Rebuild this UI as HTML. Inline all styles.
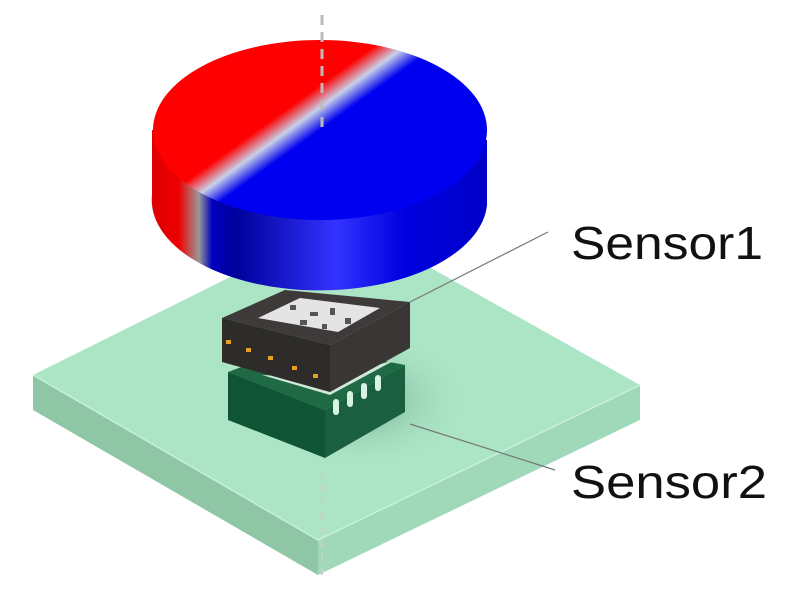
<!DOCTYPE html>
<html><head><style>body{margin:0;background:#fff}svg{display:block}</style></head><body>
<svg width="800" height="600" viewBox="0 0 800 600" xmlns="http://www.w3.org/2000/svg">
<defs>
<linearGradient id="top" x1="0" y1="0" x2="1" y2="0.75" gradientUnits="objectBoundingBox">
<stop offset="0" stop-color="#f00"/><stop offset="0.44" stop-color="#f00"/><stop offset="0.5" stop-color="#c8d0e8"/><stop offset="0.56" stop-color="#0000f0"/><stop offset="1" stop-color="#0000f0"/></linearGradient>
<linearGradient id="side" x1="152" y1="0" x2="487" y2="0" gradientUnits="userSpaceOnUse">
<stop offset="0" stop-color="#d00"/><stop offset="0.08" stop-color="#e00"/><stop offset="0.14" stop-color="#999"/><stop offset="0.18" stop-color="#0000c0"/><stop offset="0.25" stop-color="#00009a"/><stop offset="0.55" stop-color="#3333ff"/><stop offset="0.75" stop-color="#0000e0"/><stop offset="1" stop-color="#0000c8"/></linearGradient>
<radialGradient id="shadow" cx="0.5" cy="0.5" r="0.5"><stop offset="0" stop-color="#5a8a70" stop-opacity="0.7"/><stop offset="1" stop-color="#a8e4c4" stop-opacity="0"/></radialGradient>
</defs>
<polygon points="33,375 345,220 640,385 318,540" fill="#abe5c6"/>
<polygon points="33,375 318,540 318,575 33,410" fill="#8ec6a6"/>
<polygon points="318,540 640,385 640,420 318,575" fill="#9fd9b9"/>
<polyline points="33,375 318,540 640,385" fill="none" stroke="#c8f0da" stroke-width="1.5"/>
<ellipse cx="360" cy="400" rx="110" ry="70" fill="url(#shadow)"/>
<line x1="322" y1="470" x2="322" y2="575" stroke="#ccc" stroke-width="2" stroke-dasharray="8,6"/>
<polygon points="228,372 300,345 405,365 325,410" fill="#1f6a45"/>
<polygon points="228,372 325,410 325,458 228,420" fill="#0f5535"/>
<polygon points="325,410 405,365 405,412 325,458" fill="#1a6040"/>
<g stroke="#d8f3e4" stroke-width="6" stroke-linecap="round"><line x1="336" y1="412" x2="336" y2="402"/><line x1="350" y1="404" x2="350" y2="394"/><line x1="364" y1="396" x2="364" y2="386"/><line x1="378" y1="388" x2="378" y2="378"/></g>
<polygon points="262,375 330,395 395,360 330,378" fill="#cfe8d8"/>
<polygon points="222,318 285,290 410,302 330,345" fill="#3e3a3a"/>
<polygon points="222,318 330,345 330,392 222,362" fill="#2e2b2b"/>
<polygon points="330,345 410,302 410,348 330,392" fill="#3a3636"/>
<polygon points="258,318 300,298 380,308 338,332" fill="#e4e4e4"/>
<g fill="#555"><rect x="290" y="305" width="6" height="5"/><rect x="310" y="312" width="8" height="4"/><rect x="330" y="308" width="5" height="7"/><rect x="300" y="320" width="7" height="5"/><rect x="345" y="318" width="6" height="6"/><rect x="322" y="324" width="5" height="5"/></g>
<g fill="#e8a020"><rect x="226" y="340" width="5" height="4"/><rect x="246" y="348" width="5" height="4"/><rect x="268" y="356" width="5" height="4"/><rect x="292" y="366" width="5" height="4"/><rect x="313" y="374" width="5" height="4"/></g>
<path d="M152,130 L152,195 A167,90 0 0 0 487,205 L487,140 Z" fill="url(#side)"/>
<ellipse cx="320" cy="195" rx="167" ry="92" fill="url(#side)"/>
<ellipse cx="320" cy="130" rx="167" ry="90" fill="url(#top)"/>
<line x1="322" y1="15" x2="322" y2="128" stroke="#bbb" stroke-width="3" stroke-dasharray="10,7"/>
<line x1="548" y1="232" x2="410" y2="302" stroke="#777" stroke-width="1.2"/>
<line x1="555" y1="470" x2="410" y2="424" stroke="#777" stroke-width="1.2"/>
<text x="571" y="259" font-family="Liberation Sans, sans-serif" font-size="46" fill="#111" textLength="192" lengthAdjust="spacingAndGlyphs">Sensor1</text>
<text x="571" y="498" font-family="Liberation Sans, sans-serif" font-size="46" fill="#111" textLength="196" lengthAdjust="spacingAndGlyphs">Sensor2</text>
</svg>
</body></html>
